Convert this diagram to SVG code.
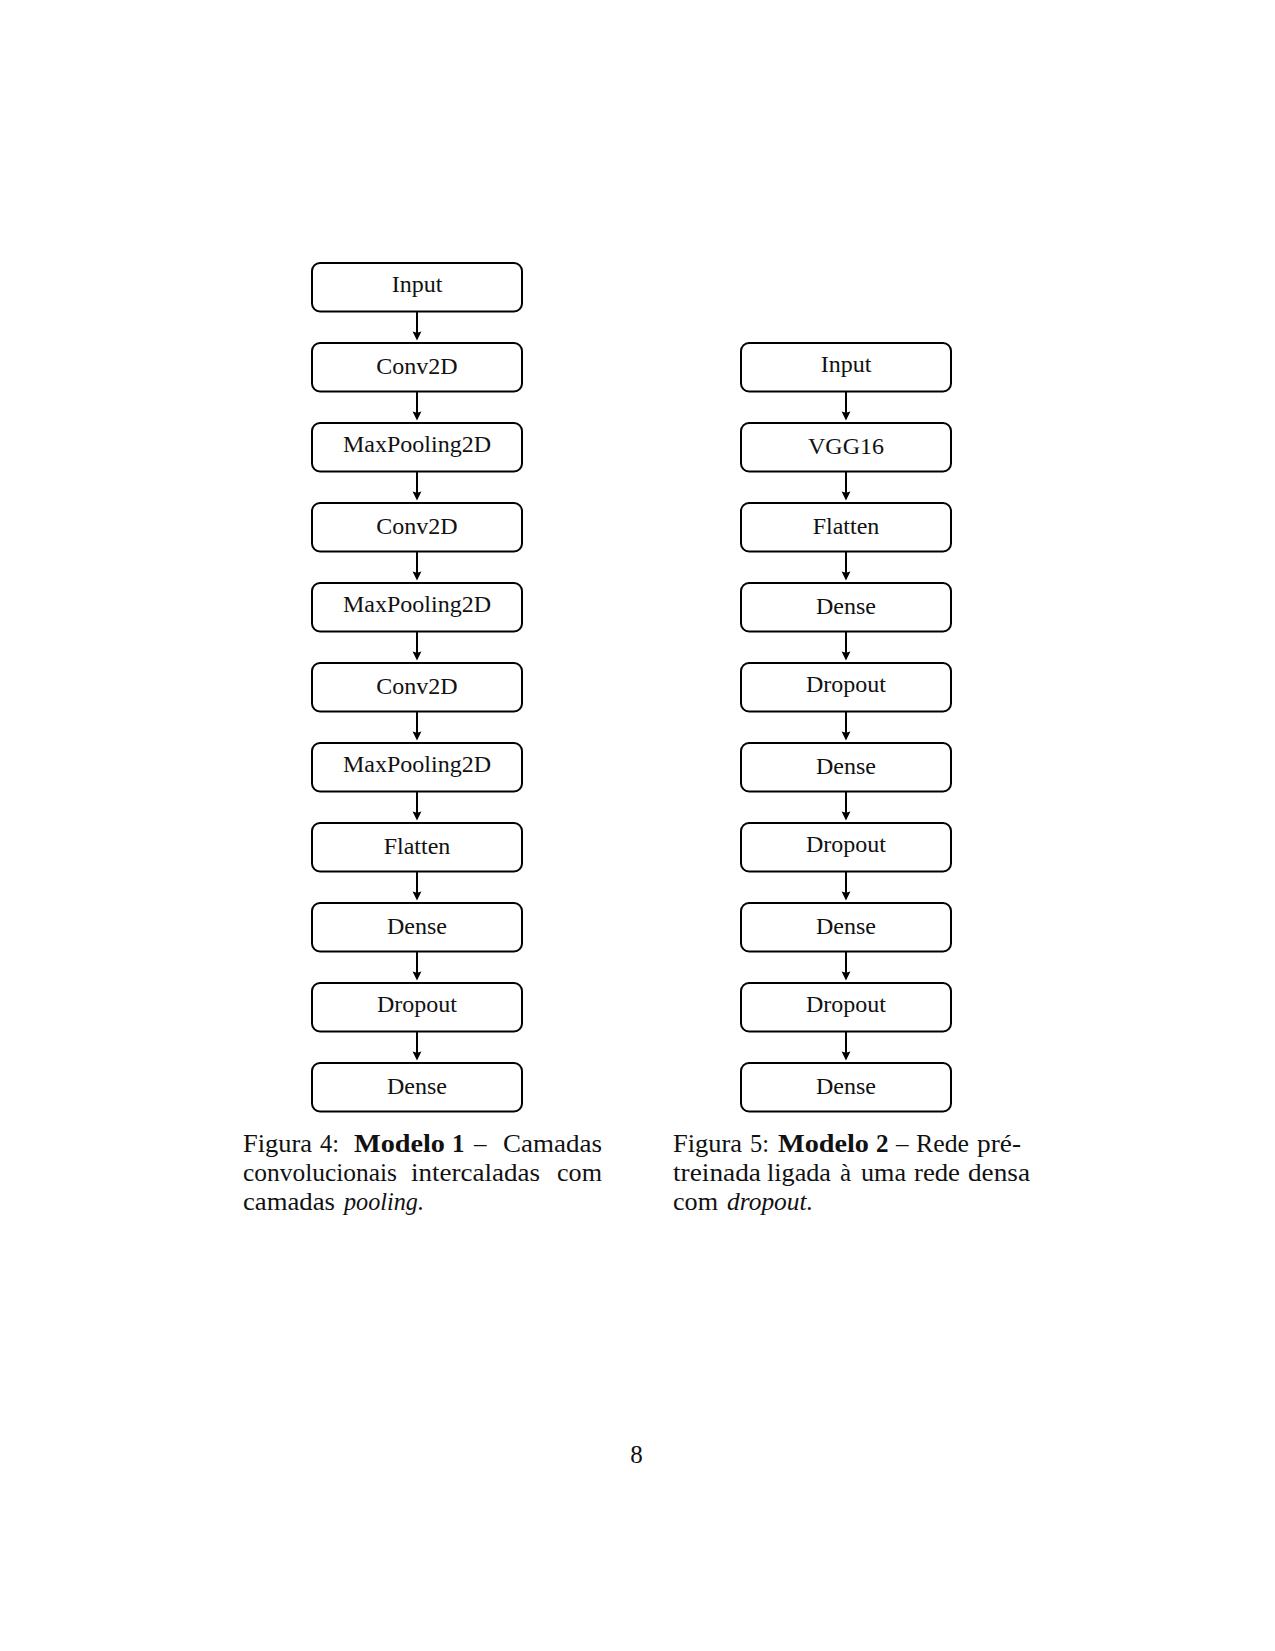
<svg xmlns="http://www.w3.org/2000/svg" width="1275" height="1651" viewBox="0 0 1275 1651">
<style>
.box{fill:#fff;stroke:#000;stroke-width:2}
.lbl{font-family:"Liberation Serif",serif;font-size:24px;fill:#111;text-anchor:middle}
.ln{fill:none;stroke:#000;stroke-width:2}
.hd{fill:#000;stroke:none}
.cap{font-family:"Liberation Serif",serif;font-size:25px;fill:#111}
.b{font-weight:bold}
.i{font-style:italic}
</style>
<rect width="1275" height="1651" fill="#fff"/>
<g id="left-column">
<g id="L0"><rect class="box" x="312" y="263" width="210" height="48.5" rx="8"/><text class="lbl" x="417" y="291.7">Input</text></g>
<g id="L1"><rect class="box" x="312" y="343" width="210" height="48.5" rx="8"/><text class="lbl" x="417" y="374">Conv2D</text></g>
<g id="L2"><rect class="box" x="312" y="423" width="210" height="48.5" rx="8"/><text class="lbl" x="417" y="451.7">MaxPooling2D</text></g>
<g id="L3"><rect class="box" x="312" y="503" width="210" height="48.5" rx="8"/><text class="lbl" x="417" y="534">Conv2D</text></g>
<g id="L4"><rect class="box" x="312" y="583" width="210" height="48.5" rx="8"/><text class="lbl" x="417" y="611.7">MaxPooling2D</text></g>
<g id="L5"><rect class="box" x="312" y="663" width="210" height="48.5" rx="8"/><text class="lbl" x="417" y="694">Conv2D</text></g>
<g id="L6"><rect class="box" x="312" y="743" width="210" height="48.5" rx="8"/><text class="lbl" x="417" y="771.7">MaxPooling2D</text></g>
<g id="L7"><rect class="box" x="312" y="823" width="210" height="48.5" rx="8"/><text class="lbl" x="417" y="854">Flatten</text></g>
<g id="L8"><rect class="box" x="312" y="903" width="210" height="48.5" rx="8"/><text class="lbl" x="417" y="934">Dense</text></g>
<g id="L9"><rect class="box" x="312" y="983" width="210" height="48.5" rx="8"/><text class="lbl" x="417" y="1011.7">Dropout</text></g>
<g id="L10"><rect class="box" x="312" y="1063" width="210" height="48.5" rx="8"/><text class="lbl" x="417" y="1094">Dense</text></g>
</g>
<g id="right-column">
<g id="R1"><rect class="box" x="741" y="343" width="210" height="48.5" rx="8"/><text class="lbl" x="846" y="371.7">Input</text></g>
<g id="R2"><rect class="box" x="741" y="423" width="210" height="48.5" rx="8"/><text class="lbl" x="846" y="454">VGG16</text></g>
<g id="R3"><rect class="box" x="741" y="503" width="210" height="48.5" rx="8"/><text class="lbl" x="846" y="534">Flatten</text></g>
<g id="R4"><rect class="box" x="741" y="583" width="210" height="48.5" rx="8"/><text class="lbl" x="846" y="614">Dense</text></g>
<g id="R5"><rect class="box" x="741" y="663" width="210" height="48.5" rx="8"/><text class="lbl" x="846" y="691.7">Dropout</text></g>
<g id="R6"><rect class="box" x="741" y="743" width="210" height="48.5" rx="8"/><text class="lbl" x="846" y="774">Dense</text></g>
<g id="R7"><rect class="box" x="741" y="823" width="210" height="48.5" rx="8"/><text class="lbl" x="846" y="851.7">Dropout</text></g>
<g id="R8"><rect class="box" x="741" y="903" width="210" height="48.5" rx="8"/><text class="lbl" x="846" y="934">Dense</text></g>
<g id="R9"><rect class="box" x="741" y="983" width="210" height="48.5" rx="8"/><text class="lbl" x="846" y="1011.7">Dropout</text></g>
<g id="R10"><rect class="box" x="741" y="1063" width="210" height="48.5" rx="8"/><text class="lbl" x="846" y="1094">Dense</text></g>
</g>
<g id="connectors">
<path class="ln" d="M417,311.5V334M417,391.5V414M417,471.5V494M417,551.5V574M417,631.5V654M417,711.5V734M417,791.5V814M417,871.5V894M417,951.5V974M417,1031.5V1054"/>
<path class="ln" d="M846,391.5V414M846,471.5V494M846,551.5V574M846,631.5V654M846,711.5V734M846,791.5V814M846,871.5V894M846,951.5V974M846,1031.5V1054"/>
<g class="hd">
<path d="M417,340.5L412.6,331.5L417,332.8L421.4,331.5Z"/>
<path d="M417,420.5L412.6,411.5L417,412.8L421.4,411.5Z"/>
<path d="M417,500.5L412.6,491.5L417,492.8L421.4,491.5Z"/>
<path d="M417,580.5L412.6,571.5L417,572.8L421.4,571.5Z"/>
<path d="M417,660.5L412.6,651.5L417,652.8L421.4,651.5Z"/>
<path d="M417,740.5L412.6,731.5L417,732.8L421.4,731.5Z"/>
<path d="M417,820.5L412.6,811.5L417,812.8L421.4,811.5Z"/>
<path d="M417,900.5L412.6,891.5L417,892.8L421.4,891.5Z"/>
<path d="M417,980.5L412.6,971.5L417,972.8L421.4,971.5Z"/>
<path d="M417,1060.5L412.6,1051.5L417,1052.8L421.4,1051.5Z"/>
<path d="M846,420.5L841.6,411.5L846,412.8L850.4,411.5Z"/>
<path d="M846,500.5L841.6,491.5L846,492.8L850.4,491.5Z"/>
<path d="M846,580.5L841.6,571.5L846,572.8L850.4,571.5Z"/>
<path d="M846,660.5L841.6,651.5L846,652.8L850.4,651.5Z"/>
<path d="M846,740.5L841.6,731.5L846,732.8L850.4,731.5Z"/>
<path d="M846,820.5L841.6,811.5L846,812.8L850.4,811.5Z"/>
<path d="M846,900.5L841.6,891.5L846,892.8L850.4,891.5Z"/>
<path d="M846,980.5L841.6,971.5L846,972.8L850.4,971.5Z"/>
<path d="M846,1060.5L841.6,1051.5L846,1052.8L850.4,1051.5Z"/>
</g>
</g>
<g id="caption-left">
<text class="cap" x="243" y="1152" textLength="69" lengthAdjust="spacingAndGlyphs">Figura</text>
<text class="cap" x="320" y="1152" textLength="19" lengthAdjust="spacingAndGlyphs">4:</text>
<text class="cap b" x="354" y="1152" textLength="91" lengthAdjust="spacingAndGlyphs">Modelo</text>
<text class="cap b" x="452" y="1152">1</text>
<text class="cap" x="474" y="1152">–</text>
<text class="cap" x="503" y="1152" textLength="99" lengthAdjust="spacingAndGlyphs">Camadas</text>
<text class="cap" x="243" y="1181" textLength="154" lengthAdjust="spacingAndGlyphs">convolucionais</text>
<text class="cap" x="411" y="1181" textLength="129" lengthAdjust="spacingAndGlyphs">intercaladas</text>
<text class="cap" x="557" y="1181" textLength="45" lengthAdjust="spacingAndGlyphs">com</text>
<text class="cap" x="243" y="1210" textLength="92" lengthAdjust="spacingAndGlyphs">camadas</text>
<text class="cap i" x="344" y="1210" textLength="80" lengthAdjust="spacingAndGlyphs">pooling.</text>
</g>
<g id="caption-right">
<text class="cap" x="673" y="1152" textLength="69" lengthAdjust="spacingAndGlyphs">Figura</text>
<text class="cap" x="750" y="1152" textLength="19" lengthAdjust="spacingAndGlyphs">5:</text>
<text class="cap b" x="778" y="1152" textLength="91" lengthAdjust="spacingAndGlyphs">Modelo</text>
<text class="cap b" x="876" y="1152">2</text>
<text class="cap" x="896" y="1152">–</text>
<text class="cap" x="916" y="1152" textLength="53" lengthAdjust="spacingAndGlyphs">Rede</text>
<text class="cap" x="977" y="1152" textLength="44" lengthAdjust="spacingAndGlyphs">pré-</text>
<text class="cap" x="673" y="1181" textLength="88" lengthAdjust="spacingAndGlyphs">treinada</text>
<text class="cap" x="767" y="1181" textLength="64" lengthAdjust="spacingAndGlyphs">ligada</text>
<text class="cap" x="840" y="1181">à</text>
<text class="cap" x="861" y="1181" textLength="45" lengthAdjust="spacingAndGlyphs">uma</text>
<text class="cap" x="914" y="1181" textLength="46" lengthAdjust="spacingAndGlyphs">rede</text>
<text class="cap" x="968" y="1181" textLength="62" lengthAdjust="spacingAndGlyphs">densa</text>
<text class="cap" x="673" y="1210" textLength="45" lengthAdjust="spacingAndGlyphs">com</text>
<text class="cap i" x="727" y="1210" textLength="86" lengthAdjust="spacingAndGlyphs">dropout.</text>
</g>
<text id="page-number" class="cap" x="636.5" y="1463" text-anchor="middle">8</text>
</svg>
